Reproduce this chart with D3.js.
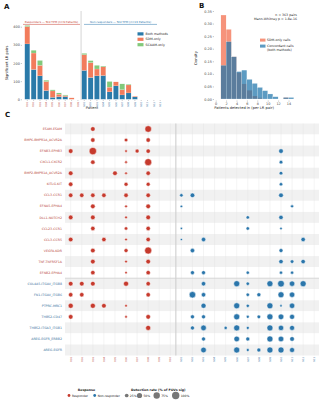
<!DOCTYPE html>
<html>
<head>
<meta charset="utf-8">
<script src="https://cdn.jsdelivr.net/npm/d3@7"></script>
<style>
  body { margin: 0; background: #fff; }
  svg { font-family: "DejaVu Sans", sans-serif; }
</style>
</head>
<body>
<div id="fig"></div>
<script>
var width = 321, height = 400;

// panel A data
var responders = ['R01','R02','R03','R04','R05','R06','R07','R08','R09'];
var nonResponders = ['N01','N02','N03','N04','N05','N06','N07','N08','N09','N10','N11','N12','N13'];
var bothMethods = [305,164,129,48,11,14,14,0,0, 159,120,129,131,41,74,24,35,13,0,0,0,0];
var sdmOnly     = [96,91,58,50,35,14,6,8,0, 87,82,38,48,26,22,29,44,4,0,0,0,0];
var scaamOnly   = [6,15,27,7,6,7,4,0,0, 7,11,20,4,31,0,32,4,0,0,0,0,0];
var stackKeys = ['both','sdm','scaam'];
var stackLabels = ['Both methods','SDM-only','SCAAM-only'];

// panel B data
var binStarts = [1,2,3,4,5,6,7,8,9,10,11,12,13,14];
var sdmDensity  = [0.334,0.277,0.168,0.105,0.06,0.035,0.012,0.005,0,0,0,0,0.006,0];
var concDensity = [0.134,0.228,0.168,0.109,0.115,0.078,0.062,0.046,0.033,0.020,0.009,0,0.006,0.006];

// panel C data
var cPatients = ['R01','R02','R03','R04','R05','R06','R07','R08','R09','R10',
  'N01','N02','N03','N04','N05','N06','N07','N08','N09','N10','N11','N12','N13'];
var lrPairs = ['ESAM-ESAM','BMP6-BMPR1A_ACVR2A','EFNB3-EPHB3','CXCL1-CXCR2','BMP2-BMPR1A_ACVR2A',
  'KITLG-KIT','CCL3-CCR1','EFNA5-EPHA4','DLL1-NOTCH2','CCL23-CCR1','CCL3-CCR5','VEGFA-KDR',
  'TNF-TNFRSF1A','EFNB2-EPHA4','COL4A5-ITGAV_ITGB8','FN1-ITGAV_ITGB6','PTPRC-MRC1','THBS2-CD47',
  'THBS2-ITGA3_ITGB1','AREG-EGFR_ERBB2','AREG-EGFR'];
var pairGroup = ['R','R','R','R','R','R','R','R','R','R','R','R','R','R','N','N','N','N','N','N','N'];
// [column index, detection rate] per LR pair
var detection = [
  [[2,.39],[7,.8]],
  [[2,.35],[5,.24],[7,.35]],
  [[0,.39],[2,1],[5,.12],[6,.29],[7,.35],[19,.39]],
  [[2,.35],[5,.12],[7,.9],[19,.24]],
  [[0,.39],[4,.39],[5,.12],[7,.35],[19,.24]],
  [[0,.35],[5,.29],[7,.29],[19,.21]],
  [[0,.35],[1,.35],[2,.35],[3,.35],[5,.35],[7,.35],[10,.21],[11,.39],[19,.39]],
  [[2,.39],[5,.12],[7,.39],[10,.105],[20,.16]],
  [[0,.39],[2,.39],[5,.12],[7,.39],[16,.21],[19,.35]],
  [[2,.35],[5,.21],[7,.35],[10,.09],[16,.21],[19,.105]],
  [[0,.39],[3,.35],[5,.12],[7,.35],[10,.09],[12,.35],[21,.35]],
  [[2,.39],[5,.29],[7,.9],[11,.35],[19,.29]],
  [[2,.39],[5,.12],[7,.39],[19,.35],[20,.24],[21,.35]],
  [[2,.35],[5,.105],[7,.35],[11,.29],[12,.29],[16,.19],[19,.19],[20,.19]],
  [[0,.39],[1,.39],[2,.39],[5,.46],[7,.35],[12,.35],[15,.66],[16,.21],[18,.66],[19,.8],[20,.53],[21,.66]],
  [[0,.35],[1,.35],[7,.35],[11,.75],[12,.35],[16,.21],[17,.29],[19,.66],[20,.53]],
  [[0,.46],[2,.46],[3,.39],[5,.12],[12,.46],[15,.66],[16,.19],[18,.66],[19,.105],[20,.53]],
  [[0,.39],[5,.12],[7,.39],[11,.29],[12,.29],[15,.66],[16,.16],[17,.24],[18,.66],[19,.57],[20,.46]],
  [[7,.46],[11,.29],[12,.57],[14,.19],[15,.66],[16,.16],[18,.66],[19,.53],[20,.46]],
  [[12,.29],[15,.57],[16,.29],[18,.66],[19,.57],[20,.39]],
  [[12,.57],[15,.66],[16,.16],[17,.29],[18,.66],[19,.66],[20,.46]]
];
var sizeLegend = [0.25,0.5,0.75,1];

var red = '#c63a2d', blue = '#2b76ab', redText = '#b8473c', blueText = '#3b6f9c';
var stackColors = {both: '#2a7aa9', sdm: '#f27c5c', scaam: '#82c97b'};

var svg = d3.select('#fig').append('svg')
  .attr('width', width)
  .attr('height', height);

function panelLabel(t, x, y) {
  svg.append('text').attr('x', x).attr('y', y).text(t)
    .attr('font-size', 7).attr('font-weight', 'bold').attr('fill', '#111');
}

// ---------- Panel A ----------
panelLabel('A', 4, 9);
var aPatients = responders.concat(nonResponders);
var aRows = aPatients.map(function(p, i) {
  return {patient: p, both: bothMethods[i], sdm: sdmOnly[i], scaam: scaamOnly[i]};
});
var xA = d3.scaleBand().domain(aPatients).range([23.5, 164]).padding(0.2);
var yA = d3.scaleLinear().domain([0, 400]).range([99.3, 26.7]);

var yAxisA = svg.append('g').attr('transform', 'translate(22,0)')
  .call(d3.axisLeft(yA).tickValues([0,100,200,300,400]).tickSize(1.2).tickPadding(1));
yAxisA.select('.domain').remove();
yAxisA.selectAll('text').attr('font-size', 3.4).attr('fill', '#444').attr('font-family', 'DejaVu Sans');
yAxisA.selectAll('line').attr('stroke', '#444').attr('stroke-width', 0.3);

svg.append('text').attr('transform', 'translate(8,63) rotate(-90)')
  .attr('text-anchor', 'middle').attr('font-size', 3.6).attr('fill', '#222')
  .text('Significant LR pairs');

var series = d3.stack().keys(stackKeys)(aRows);
svg.append('g').selectAll('g').data(series).enter().append('g')
  .attr('fill', function(d) { return stackColors[d.key]; })
  .selectAll('rect').data(function(d) { return d; }).enter().append('rect')
  .attr('x', function(d) { return xA(d.data.patient); })
  .attr('width', xA.bandwidth())
  .attr('y', function(d) { return yA(d[1]); })
  .attr('height', function(d) { return yA(d[0]) - yA(d[1]); })
  .attr('stroke', '#fff').attr('stroke-width', 0.15);

var sepA = (xA(responders[8]) + xA(nonResponders[0]) + xA.bandwidth()) / 2;
svg.append('line').attr('x1', sepA).attr('x2', sepA).attr('y1', 11).attr('y2', 100)
  .attr('stroke', '#bbb').attr('stroke-width', 0.6);

// group headers
function header(t, x0, x1, col) {
  svg.append('text').attr('x', (x0 + x1) / 2).attr('y', 23).attr('text-anchor', 'middle')
    .attr('font-size', 2.8).attr('fill', col).text(t);
  svg.append('line').attr('x1', x0).attr('x2', x1).attr('y1', 24.4).attr('y2', 24.4)
    .attr('stroke', col).attr('stroke-width', 0.5);
}
header('Responders \u2014 Std TPM (n=9 Patients)', 23, 80, red);
header('Non-responders \u2014 Std TPM (n=13 Patients)', 84, 157, blue);

// x ticks A
var xTicksA = svg.append('g').selectAll('g').data(aPatients).enter().append('g')
  .attr('transform', function(d) { return 'translate(' + (xA(d) + xA.bandwidth() / 2) + ',100)'; });
xTicksA.append('line').attr('y1', 0).attr('y2', 1).attr('stroke', '#555').attr('stroke-width', 0.3);
xTicksA.append('text').attr('transform', 'translate(0.8,2) rotate(-90)')
  .attr('text-anchor', 'end').attr('font-size', 2.4)
  .attr('fill', function(d, i) { return i < responders.length ? redText : blueText; })
  .text(function(d) { return d; });
svg.append('text').attr('x', 92).attr('y', 109).attr('text-anchor', 'middle')
  .attr('font-size', 3.6).attr('fill', '#222').text('Patient');

// legend A
var legA = svg.append('g').selectAll('g').data(stackKeys).enter().append('g')
  .attr('transform', function(d, i) { return 'translate(137.5,' + (32.3 + i * 5.4) + ')'; });
legA.append('rect').attr('width', 6).attr('height', 3.2)
  .attr('fill', function(d) { return stackColors[d]; });
legA.append('text').attr('x', 8).attr('y', 2.6).attr('font-size', 3.2).attr('fill', '#222')
  .text(function(d, i) { return stackLabels[i]; });

// ---------- Panel B ----------
panelLabel('B', 199, 8);
var xB = d3.scaleLinear().domain([0, 14]).range([215.7, 288.5]);
var yB = d3.scaleLinear().domain([0, 0.35]).range([99, 11]);

var yAxisB = svg.append('g').attr('transform', 'translate(214,0)')
  .call(d3.axisLeft(yB).tickValues([0,0.05,0.1,0.15,0.2,0.25,0.3,0.35]).tickFormat(d3.format('.2f')).tickSize(1.2).tickPadding(1));
yAxisB.select('.domain').remove();
yAxisB.selectAll('text').attr('font-size', 3.4).attr('fill', '#444').attr('font-family', 'DejaVu Sans');
yAxisB.selectAll('line').attr('stroke', '#444').attr('stroke-width', 0.3);

var xAxisB = svg.append('g').attr('transform', 'translate(0,100.5)')
  .call(d3.axisBottom(xB).tickValues([0,2,4,6,8,10,12,14]).tickSize(1.2).tickPadding(0.8));
xAxisB.select('.domain').remove();
xAxisB.selectAll('text').attr('font-size', 3.4).attr('fill', '#444').attr('font-family', 'DejaVu Sans');
xAxisB.selectAll('line').attr('stroke', '#444').attr('stroke-width', 0.3);

svg.append('text').attr('transform', 'translate(197,58) rotate(-90)')
  .attr('text-anchor', 'middle').attr('font-size', 3.6).attr('fill', '#222').text('Density');
svg.append('text').attr('x', 244).attr('y', 109).attr('text-anchor', 'middle')
  .attr('font-size', 3.6).attr('fill', '#222').text('Patients detected in (per LR pair)');

function hist(vals, col, op) {
  svg.append('g').selectAll('rect').data(binStarts).enter().append('rect')
    .attr('x', function(d) { return xB(d); })
    .attr('width', function(d) { return xB(d + 1) - xB(d); })
    .attr('y', function(d, i) { return yB(vals[i]); })
    .attr('height', function(d, i) { return yB(0) - yB(vals[i]); })
    .attr('fill', col).attr('fill-opacity', op)
    .attr('stroke', '#fff').attr('stroke-width', 0.2);
}
hist(sdmDensity, '#f26a48', 0.72);
hist(concDensity, '#1f74ab', 0.72);

svg.append('text').attr('x', 297).attr('y', 15.5).attr('text-anchor', 'end')
  .attr('font-size', 3.2).attr('fill', '#222').text('n = 363 pairs');
svg.append('text').attr('x', 297).attr('y', 20.3).attr('text-anchor', 'end')
  .attr('font-size', 3.2).attr('fill', '#222').text('Mann-Whitney p = 1.8e-16');

svg.append('rect').attr('x', 260).attr('y', 38.6).attr('width', 5.5).attr('height', 3)
  .attr('fill', '#f26a48').attr('fill-opacity', 0.72);
svg.append('text').attr('x', 267).attr('y', 41.2).attr('font-size', 3.2).attr('fill', '#222').text('SDM-only calls');
svg.append('rect').attr('x', 260).attr('y', 44.6).attr('width', 5.5).attr('height', 3)
  .attr('fill', '#1f74ab').attr('fill-opacity', 0.72);
svg.append('text').attr('x', 267).attr('y', 47.2).attr('font-size', 3.2).attr('fill', '#222').text('Concordant calls');
svg.append('text').attr('x', 267).attr('y', 50.8).attr('font-size', 3.2).attr('fill', '#222').text('(both methods)');

// ---------- Panel C ----------
panelLabel('C', 5, 117);
var xC = d3.scalePoint().domain(cPatients).range([70.7, 314.2]);
var yC = d3.scalePoint().domain(lrPairs).range([129, 350]);
var rowH = yC.step();
var rC = d3.scaleSqrt().domain([0, 1]).range([0, 3.7]);

svg.append('g').selectAll('rect').data(lrPairs).enter().append('rect')
  .attr('x', 65).attr('width', 254)
  .attr('y', function(d) { return yC(d) - rowH / 2; })
  .attr('height', rowH)
  .attr('fill', function(d, i) { return i % 2 === 0 ? '#f1f1f1' : '#fff'; });

svg.append('g').selectAll('line').data(cPatients).enter().append('line')
  .attr('x1', function(d) { return xC(d); }).attr('x2', function(d) { return xC(d); })
  .attr('y1', 123.5).attr('y2', 355.5)
  .attr('stroke', '#e4e4e4').attr('stroke-width', 0.4);

var sepC = (xC('R10') + xC('N01')) / 2;
svg.append('line').attr('x1', sepC).attr('x2', sepC).attr('y1', 123.5).attr('y2', 355.5)
  .attr('stroke', '#cfcfcf').attr('stroke-width', 1.1);
var sepY = (yC(lrPairs[13]) + yC(lrPairs[14])) / 2;
svg.append('line').attr('x1', 65).attr('x2', 319).attr('y1', sepY).attr('y2', sepY)
  .attr('stroke', '#cfcfcf').attr('stroke-width', 0.8);

svg.append('g').selectAll('text').data(lrPairs).enter().append('text')
  .attr('x', 62).attr('y', function(d) { return yC(d) + 1.1; })
  .attr('text-anchor', 'end').attr('font-size', 3.2)
  .attr('fill', function(d, i) { return pairGroup[i] === 'R' ? redText : blueText; })
  .text(function(d) { return d; });

var dots = [];
detection.forEach(function(row, i) {
  row.forEach(function(c) { dots.push({pair: lrPairs[i], patient: cPatients[c[0]], rate: c[1]}); });
});
svg.append('g').selectAll('circle').data(dots).enter().append('circle')
  .attr('cx', function(d) { return xC(d.patient); })
  .attr('cy', function(d) { return yC(d.pair); })
  .attr('r', function(d) { return rC(d.rate); })
  .attr('fill', function(d) { return d.patient[0] === 'R' ? red : blue; })
  .attr('stroke', '#fff').attr('stroke-width', 0.5);

var xTicksC = svg.append('g').selectAll('g').data(cPatients).enter().append('g')
  .attr('transform', function(d) { return 'translate(' + xC(d) + ',356)'; });
xTicksC.append('text').attr('transform', 'translate(0.8,1) rotate(-90)')
  .attr('text-anchor', 'end').attr('font-size', 2.4)
  .attr('fill', function(d) { return d[0] === 'R' ? redText : blueText; })
  .text(function(d) { return d; });

// legend C
svg.append('text').attr('x', 86.5).attr('y', 391).attr('text-anchor', 'middle')
  .attr('font-size', 3.2).attr('font-weight', 'bold').attr('fill', '#222').text('Response');
svg.append('circle').attr('cx', 69).attr('cy', 395.5).attr('r', 1.4).attr('fill', red);
svg.append('text').attr('x', 72).attr('y', 396.6).attr('font-size', 3).attr('fill', '#222').text('Responder');
svg.append('circle').attr('cx', 94.7).attr('cy', 395.5).attr('r', 1.4).attr('fill', blue);
svg.append('text').attr('x', 97.7).attr('y', 396.6).attr('font-size', 3).attr('fill', '#222').text('Non-responder');

svg.append('text').attr('x', 131).attr('y', 391)
  .attr('font-size', 3.2).attr('font-weight', 'bold').attr('fill', '#222').text('Detection rate (% of FOVs sig)');
var sizeX = [126.7, 139.5, 156.7, 175.7];
var legC = svg.append('g').selectAll('g').data(sizeLegend).enter().append('g')
  .attr('transform', function(d, i) { return 'translate(' + sizeX[i] + ',395.5)'; });
legC.append('circle').attr('r', function(d) { return rC(d); }).attr('fill', '#777');
legC.append('text').attr('x', function(d) { return rC(d) + 1.3; }).attr('y', 1.1)
  .attr('font-size', 3).attr('fill', '#222')
  .text(function(d) { return d3.format('.0%')(d); });
</script>
</body>
</html>
